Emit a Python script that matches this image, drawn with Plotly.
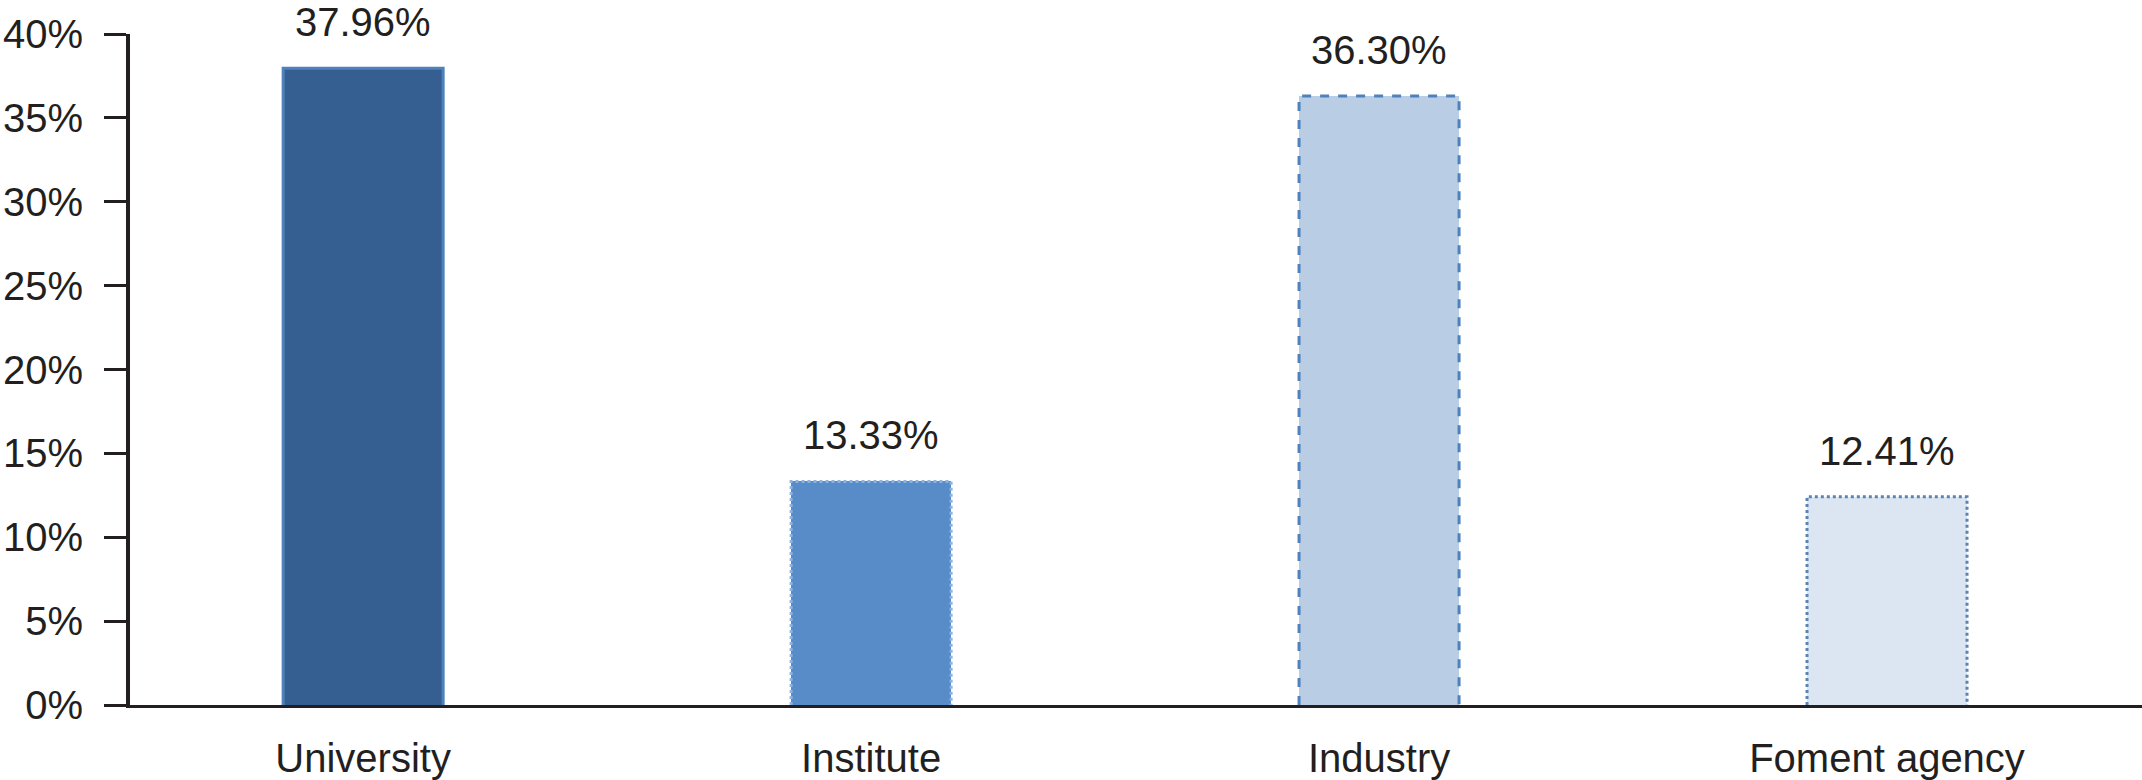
import plotly.graph_objects as go

categories = ["University", "Institute", "Industry", "Foment agency"]
values = [37.96, 13.33, 36.30, 12.41]
labels = ["37.96%", "13.33%", "36.30%", "12.41%"]
fill_colors = ["#365F91", "#578CC8", "#B9CDE5", "#DCE6F2"]
line_colors = ["#4F81BD", "#8DB3E2", "#4F81BD", "#5B84B1"]
line_dashes = ["solid", "dot", "dash", "dot"]
y_ticks = [0, 5, 10, 15, 20, 25, 30, 35, 40]
y_tick_text = ["0%", "5%", "10%", "15%", "20%", "25%", "30%", "35%", "40%"]

BAR_W = 0.315
FONT = "Liberation Sans, Arial, Helvetica, sans-serif"
INK = "#231F20"
FS = 40

xs = list(range(len(categories)))

fig = go.Figure()
fig.add_trace(go.Bar(
    x=xs, y=values, width=BAR_W,
    marker=dict(color=fill_colors, line=dict(width=0)),
    showlegend=False, hoverinfo="skip",
))

for i, v in enumerate(values):
    fig.add_trace(go.Scatter(
        x=[i - BAR_W / 2, i - BAR_W / 2, i + BAR_W / 2, i + BAR_W / 2],
        y=[0, v, v, 0],
        mode="lines",
        line=dict(color=line_colors[i], width=3, dash=line_dashes[i]),
        showlegend=False, hoverinfo="skip", cliponaxis=False,
    ))
    fig.add_annotation(
        x=i, y=v, text=labels[i], showarrow=False,
        xanchor="center", yanchor="middle", yshift=46,
        font=dict(family=FONT, size=FS, color=INK),
    )

fig.update_layout(
    width=2142, height=780,
    margin=dict(l=130, r=0, t=34, b=75, pad=0),
    paper_bgcolor="white", plot_bgcolor="white",
    font=dict(family=FONT, size=FS, color=INK),
    bargap=0,
)
fig.update_xaxes(
    range=[-0.459, 3.502],
    tickvals=xs, ticktext=categories,
    showline=True, linecolor=INK, linewidth=3,
    ticks="", showgrid=False, zeroline=False,
    ticklabelstandoff=16, automargin=False,
    tickfont=dict(family=FONT, size=FS, color=INK),
)
fig.update_yaxes(
    range=[0, 40],
    tickvals=y_ticks, ticktext=y_tick_text,
    showline=True, linecolor=INK, linewidth=4,
    ticks="outside", ticklen=22, tickwidth=3, tickcolor=INK,
    showgrid=False, zeroline=False,
    ticklabelstandoff=13, automargin=False,
    tickfont=dict(family=FONT, size=FS, color=INK),
)

# remove the browser's default 8px body margin so the figure fills the window
fig.write_html(
    "out.html",
    config={"displayModeBar": False},
    post_script="document.body.style.margin='0';",
)
